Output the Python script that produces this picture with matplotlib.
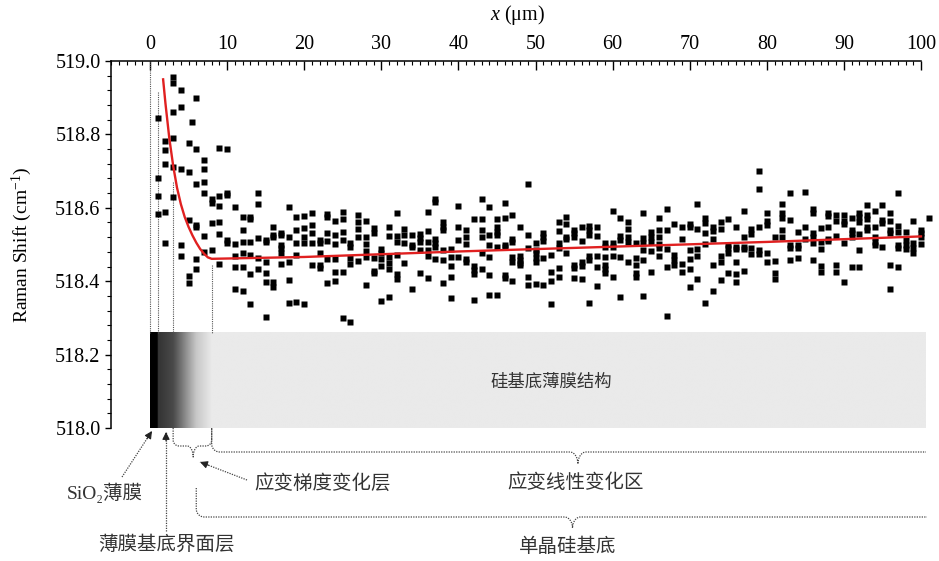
import numpy as np
import matplotlib
matplotlib.use("Agg")
import matplotlib.pyplot as plt
from matplotlib.ticker import FixedLocator

plt.rcParams['font.family'] = ['Liberation Serif', 'Noto Sans CJK SC', 'DejaVu Sans']
plt.rcParams['mathtext.fontset'] = 'custom'
plt.rcParams['mathtext.rm'] = 'Liberation Serif'
plt.rcParams['mathtext.it'] = 'Liberation Serif:italic'

# ---------------- data (x in µm, Raman shift in cm^-1) ----------------
cols_00_20 = [
    (1, [518.846, 518.680, 518.633, 518.583]),
    (2, [518.783, 518.757, 518.719, 518.589, 518.505]),
    (3, [518.957, 518.939, 518.862, 518.791, 518.712, 518.630]),
    (4, [518.921, 518.876, 518.705, 518.499, 518.469]),
    (5, [518.777, 518.698, 518.567, 518.414, 518.396]),
    (5.5, [518.833]),
    (6, [518.900, 518.759, 518.665, 518.553, 518.549, 518.460, 518.432]),
    (7, [518.730, 518.705, 518.671, 518.641, 518.523, 518.480]),
    (8, [518.623, 518.614, 518.558, 518.485]),
    (9, [518.762, 518.632, 518.605, 518.562, 518.529, 518.447]),
    (10, [518.759, 518.641, 518.635, 518.512, 518.505]),
    (11, [518.601, 518.501, 518.469, 518.440, 518.378]),
    (12, [518.576, 518.540, 518.508, 518.478, 518.440, 518.374]),
    (13, [518.576, 518.569, 518.508, 518.471, 518.419, 518.338]),
    (14, [518.639, 518.609, 518.517, 518.462, 518.432]),
    (15, [518.512, 518.508, 518.451, 518.423, 518.399, 518.303]),
    (16, [518.549, 518.526, 518.520, 518.399, 518.385]),
    (17, [518.532, 518.526, 518.499, 518.490, 518.476, 518.447]),
    (18, [518.603, 518.520, 518.451, 518.403, 518.341]),
    (19, [518.576, 518.540, 518.503, 518.471, 518.344]),
    (20, [518.578, 518.544, 518.521, 518.503, 518.337]),
]
cols_21_40 = [
    (21, [518.587, 518.553, 518.532, 518.505, 518.444]),
    (22, [518.512, 518.503, 518.478, 518.444, 518.435]),
    (23, [518.583, 518.576, 518.532, 518.510, 518.460, 518.396]),
    (24, [518.563, 518.526, 518.501, 518.461, 518.426, 518.401]),
    (25, [518.589, 518.569, 518.535, 518.512, 518.426, 518.299]),
    (26, [518.505, 518.494, 518.463, 518.447, 518.288]),
    (27, [518.580, 518.560, 518.541, 518.520, 518.456]),
    (28, [518.563, 518.520, 518.501, 518.481, 518.465, 518.391]),
    (29, [518.544, 518.530, 518.463, 518.429, 518.421]),
    (30, [518.487, 518.478, 518.461, 518.441, 518.346]),
    (31, [518.547, 518.523, 518.465, 518.449, 518.434, 518.358]),
    (32, [518.585, 518.523, 518.507, 518.471, 518.420, 518.407]),
    (33, [518.543, 518.525, 518.505, 518.449]),
    (34, [518.525, 518.500, 518.492, 518.380]),
    (35, [518.529, 518.518, 518.507, 518.485, 518.423]),
    (36, [518.589, 518.536, 518.507, 518.485, 518.469, 518.409]),
    (37, [518.623, 518.616, 518.514, 518.505, 518.492, 518.461]),
    (38, [518.560, 518.547, 518.540, 518.485, 518.458, 518.396]),
    (39, [518.487, 518.467, 518.441, 518.411, 518.354]),
    (40, [518.605, 518.547, 518.512, 518.467]),
]
cols_41_60 = [
    (41, [518.540, 518.521, 518.501, 518.461, 518.451]),
    (42, [518.569, 518.441, 518.431, 518.420, 518.349]),
    (43, [518.623, 518.569, 518.540, 518.520, 518.476, 518.432]),
    (44, [518.601, 518.527, 518.499, 518.465, 518.416, 518.363]),
    (45, [518.569, 518.547, 518.535, 518.526, 518.492, 518.363]),
    (46, [518.612, 518.571, 518.499, 518.494, 518.417, 518.408]),
    (47, [518.580, 518.516, 518.508, 518.465, 518.453, 518.401]),
    (48, [518.547, 518.469, 518.458, 518.449, 518.444]),
    (49, [518.664, 518.525, 518.490, 518.411, 518.391]),
    (50, [518.505, 518.485, 518.476, 518.462, 518.453, 518.392]),
    (51, [518.532, 518.520, 518.510, 518.462, 518.389]),
    (52, [518.472, 518.425, 518.401, 518.338]),
    (53, [518.560, 518.536, 518.505, 518.490, 518.435, 518.411]),
    (54, [518.574, 518.556, 518.521, 518.514, 518.478]),
    (55, [518.540, 518.530, 518.520, 518.445, 518.435, 518.408]),
    (56, [518.547, 518.510, 518.452, 518.441, 518.405]),
    (57, [518.550, 518.540, 518.525, 518.469, 518.458, 518.340]),
    (58, [518.547, 518.523, 518.469, 518.440, 518.387]),
    (59, [518.503, 518.492, 518.467, 518.444, 518.432, 518.423]),
    (60, [518.592, 518.505, 518.492, 518.469, 518.412]),
]
cols_61_80 = [
    (61, [518.571, 518.523, 518.512, 518.465, 518.356]),
    (62, [518.562, 518.541, 518.520, 518.508, 518.453]),
    (63, [518.505, 518.462, 518.444, 518.421, 518.411]),
    (64, [518.585, 518.517, 518.503, 518.485, 518.458, 518.360]),
    (65, [518.535, 518.520, 518.508, 518.481, 518.426]),
    (66, [518.571, 518.540, 518.520, 518.501, 518.490, 518.469]),
    (67, [518.596, 518.540, 518.487, 518.438, 518.305]),
    (68, [518.556, 518.471, 518.458, 518.444]),
    (69, [518.547, 518.514, 518.447, 518.426]),
    (70, [518.556, 518.547, 518.485, 518.460, 518.432, 518.383]),
    (71, [518.610, 518.541, 518.487, 518.469, 518.407]),
    (72, [518.571, 518.558, 518.530, 518.501, 518.340]),
    (73, [518.547, 518.538, 518.514, 518.444, 518.372]),
    (74, [518.560, 518.541, 518.469, 518.451, 518.403]),
    (75, [518.569, 518.499, 518.490, 518.478, 518.421]),
    (76, [518.547, 518.494, 518.487, 518.453, 518.420, 518.398]),
    (77, [518.592, 518.520, 518.494, 518.487, 518.429]),
    (78, [518.541, 518.529, 518.490, 518.474]),
    (79, [518.701, 518.650, 518.547, 518.485, 518.474]),
    (80, [518.585, 518.565, 518.553, 518.476, 518.451]),
]
cols_81_101 = [
    (81, [518.520, 518.456, 518.423, 518.407]),
    (82, [518.610, 518.585, 518.571, 518.540, 518.520]),
    (83, [518.641, 518.567, 518.499, 518.490, 518.458]),
    (84, [518.535, 518.499, 518.490, 518.462]),
    (85, [518.643, 518.547, 518.514]),
    (86, [518.596, 518.585, 518.532, 518.520, 518.505, 518.458]),
    (87, [518.544, 518.508, 518.487, 518.441, 518.426]),
    (88, [518.585, 518.578, 518.547, 518.514, 518.510]),
    (89, [518.580, 518.565, 518.523, 518.444, 518.426]),
    (90, [518.580, 518.565, 518.556, 518.505, 518.399]),
    (91, [518.571, 518.540, 518.530, 518.520, 518.438]),
    (92, [518.585, 518.576, 518.562, 518.529, 518.485, 518.438]),
    (93, [518.608, 518.580, 518.569, 518.547, 518.540]),
    (94, [518.590, 518.547, 518.520, 518.508, 518.499]),
    (95, [518.608, 518.567, 518.558, 518.494]),
    (96, [518.585, 518.563, 518.540, 518.532, 518.444, 518.378]),
    (97, [518.641, 518.550, 518.535, 518.499, 518.490, 518.438]),
    (98, [518.535, 518.512, 518.499, 518.487]),
    (99, [518.565, 518.503, 518.490, 518.476]),
    (100, [518.540, 518.532, 518.520, 518.501]),
    (101, [518.571]),
]

# red fitted curve
fit_x = [1.7, 2.0, 2.5, 3.0, 3.5, 4.0, 4.5, 5.0, 5.5, 6.0, 6.5, 7.0, 7.5, 8.0,
         20, 40, 60, 80, 100]
fit_y = [518.950, 518.885, 518.790, 518.715, 518.655, 518.610, 518.575, 518.548,
         518.525, 518.505, 518.488, 518.475, 518.465, 518.461,
         518.466, 518.481, 518.494, 518.507, 518.522]

# layer boundaries (µm) and where their dotted guides start (cm^-1)
boundary_x = [0, 1, 3, 8]
boundary_top = [519.0, 518.915, 518.67, 518.445]

# gradient bar grey stops
bar_stop_x = [0, 1, 1.001, 3, 4, 5, 6, 8, 100.65]
bar_stop_gray = [0.0, 0.0, 0.20, 0.29, 0.45, 0.62, 0.78, 0.915, 0.915]

# ---------------- figure ----------------
W, H = 939, 561
L, R, T, B = 111, 926, 61, 428
XMIN, XMAX = -5.06, 100.65
fig = plt.figure(figsize=(W / 100, H / 100), dpi=100)
ax = fig.add_axes([L / W, 1 - B / H, (R - L) / W, (B - T) / H])
ax.set_xlim(XMIN, XMAX)
ax.set_ylim(518.0, 519.0)

xs, ys = [], []
for group in (cols_00_20, cols_21_40, cols_41_60, cols_61_80, cols_81_101):
    for x, vals in group:
        for v in vals:
            xs.append(x)
            ys.append(v)
ax.plot(xs, ys, 's', ms=4.3, color='black', mec='none', zorder=4, clip_on=False)
ax.plot(fit_x, fit_y, '-', color='#e02020', lw=1.7, zorder=5)

# gradient bar
grid = np.linspace(0, 100.65, 3000)
grad = np.interp(grid, bar_stop_x, bar_stop_gray)
ax.imshow(grad[np.newaxis, :], extent=[0, 100.65, 518.0, 518.26], aspect='auto',
          cmap='gray', vmin=0, vmax=1, interpolation='bilinear', zorder=1)
ax.text(52.1, 518.123, '硅基底薄膜结构', ha='center', va='center', fontsize=12.5,
        color='#333333', zorder=3)

for bx, bt in zip(boundary_x, boundary_top):
    ax.plot([bx, bx], [bt, 518.26], color='#555555', lw=0.8,
            linestyle=(0, (1, 1)), zorder=2)

# axes styling
for s in ('right', 'bottom'):
    ax.spines[s].set_visible(False)
for s in ('top', 'left'):
    ax.spines[s].set_linewidth(1.1)
ax.spines['top'].set_bounds(XMIN, 100)
ax.xaxis.tick_top()
ax.set_xticks(np.arange(0, 101, 10))
ax.xaxis.set_minor_locator(FixedLocator(np.arange(-5, 101, 1)))
ax.set_yticks(np.arange(518.0, 519.01, 0.2))
ax.set_yticklabels([f'{v:.1f}' for v in np.arange(518.0, 519.01, 0.2)])
ax.yaxis.set_minor_locator(FixedLocator(np.arange(518.0, 519.001, 0.04)))
ax.tick_params(axis='x', which='major', direction='in', length=6.5, width=1,
               labelsize=14.5, pad=5)
ax.tick_params(axis='x', which='minor', direction='in', length=3, width=0.8)
ax.tick_params(axis='y', which='major', direction='out', length=4.5, width=1,
               labelsize=14.5, pad=3)
ax.tick_params(axis='y', which='minor', direction='out', length=3, width=0.8)

fig.text(518 / W, 1 - 15 / H, r'$\mathit{x}$ (μm)', ha='center', va='center', fontsize=14.5)
fig.text(22 / W, 1 - 245 / H, r'Raman Shift (cm$^{-1}$)', rotation=90,
         ha='center', va='center', fontsize=14)

# ---------------- annotation overlay (pixel coordinates) ----------------
ov = fig.add_axes([0, 0, 1, 1], zorder=10)
ov.set_xlim(0, W)
ov.set_ylim(H, 0)
ov.axis('off')
ov.patch.set_alpha(0)


def PX(x):
    return L + (x - XMIN) / (XMAX - XMIN) * (R - L)


DOT = dict(color='#444444', lw=0.9, linestyle=(0, (1, 1)))


def brace(xl, y0, yl, xt, ytip, xr, r=7, rt=7, right_hook=True):
    t = np.linspace(0, np.pi / 2, 12)
    px = [xl]; py = [y0]
    px += list(xl + r * (1 - np.cos(t))); py += list(yl - r + r * np.sin(t))
    px += list(xt - rt + rt * np.sin(t)); py += list(yl + (ytip - yl) * (1 - np.cos(t)))
    px += list(xt + rt - rt * np.sin(t[::-1])); py += list(yl + (ytip - yl) * (1 - np.cos(t[::-1])))
    if right_hook:
        px += list(xr - r * (1 - np.cos(t[::-1]))); py += list(yl - r + r * np.sin(t[::-1]))
        px.append(xr); py.append(y0)
    else:
        px.append(xr); py.append(yl)
    ov.plot(px, py, **DOT)


brace(PX(3), 428, 446, PX(5.6), 457, PX(8), r=6, rt=6)
brace(PX(8), 428, 452, PX(55.5), 464, 926, r=8, rt=8, right_hook=False)
brace(PX(6), 488, 517, PX(54.8), 528, 927, r=8, rt=8, right_hook=False)


def dotted_arrow(x0, y0, x1, y1):
    ov.plot([x0, x1], [y0, y1], **DOT)
    d = np.hypot(x1 - x0, y1 - y0)
    ux, uy = (x1 - x0) / d, (y1 - y0) / d
    ov.annotate('', xy=(x1, y1), xytext=(x1 - 9 * ux, y1 - 9 * uy),
                arrowprops=dict(arrowstyle='-|>', color='#222222', lw=0.8,
                                mutation_scale=11, shrinkA=0, shrinkB=0))


dotted_arrow(122, 477, 152, 431)
dotted_arrow(166, 531, 166, 432)
dotted_arrow(247, 480, 200, 462)

TXT = dict(ha='center', va='center', fontsize=14, color='#333333')
ov.text(105, 493, 'SiO\u2082薄膜', **TXT)
ov.text(166, 545, '薄膜基底界面层', **TXT)
ov.text(323, 484, '应变梯度变化层', **TXT)
ov.text(576, 483, '应变线性变化区', **TXT)
ov.text(568, 547, '单晶硅基底', **TXT)

fig.savefig('out.png', dpi=100)
